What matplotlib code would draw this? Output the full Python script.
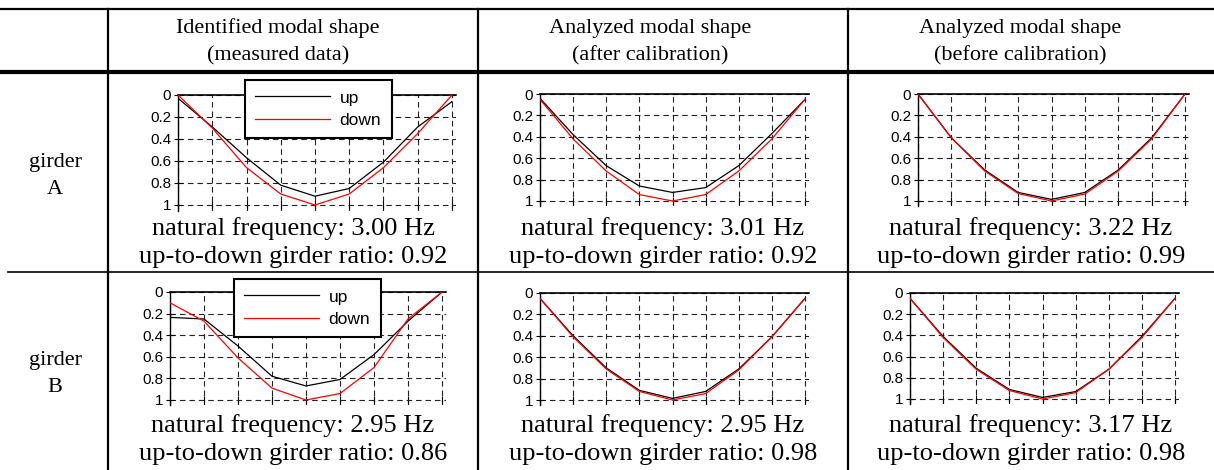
import numpy as np
import matplotlib
matplotlib.use('Agg')
import matplotlib.pyplot as plt
from matplotlib.lines import Line2D

# Figure size in pixels
W, H = 1214, 470

# Measurement points along the girder
points = np.arange(9)

# Girder A: modal shapes (normalized)
a_meas_up = [0.03, 0.29, 0.57, 0.82, 0.92, 0.85, 0.61, 0.29, 0.06]
a_meas_down = [0.0, 0.30, 0.66, 0.90, 1.0, 0.90, 0.66, 0.35, 0.0]
a_after_up = [0.04, 0.38, 0.67, 0.86, 0.92, 0.875, 0.67, 0.37, 0.05]
a_after_down = [0.05, 0.42, 0.72, 0.94, 1.0, 0.94, 0.72, 0.42, 0.05]
a_before_up = [0.0, 0.41, 0.71, 0.92, 0.985, 0.92, 0.71, 0.41, 0.0]
a_before_down = [0.0, 0.41, 0.72, 0.93, 1.0, 0.935, 0.72, 0.42, 0.0]

# Girder B: modal shapes (normalized)
b_meas_up = [0.235, 0.25, 0.50, 0.78, 0.87, 0.81, 0.58, 0.27, 0.0]
b_meas_down = [0.10, 0.27, 0.61, 0.89, 1.0, 0.94, 0.70, 0.25, 0.0]
b_after_up = [0.05, 0.40, 0.70, 0.91, 0.985, 0.92, 0.71, 0.41, 0.05]
b_after_down = [0.05, 0.41, 0.71, 0.92, 1.0, 0.94, 0.72, 0.41, 0.05]
b_before_up = [0.05, 0.41, 0.71, 0.91, 0.985, 0.93, 0.72, 0.41, 0.05]
b_before_down = [0.05, 0.42, 0.72, 0.92, 1.0, 0.94, 0.72, 0.42, 0.05]

col_titles = [["Identified modal shape", "(measured data)"],
              ["Analyzed modal shape", "(after calibration)"],
              ["Analyzed modal shape", "(before calibration)"]]
row_labels = [["girder", "A"], ["girder", "B"]]
frequencies = [["3.00", "3.01", "3.22"], ["2.95", "2.95", "3.17"]]
ratios = [["0.92", "0.92", "0.99"], ["0.86", "0.98", "0.98"]]

serif = 'Liberation Serif'
sans = 'Liberation Sans'

fig = plt.figure(figsize=(W / 100, H / 100), dpi=100)


def fx(x):
    return x / W


def fy(y):
    return 1 - y / H


########################
# Table lines
########################
def hline(y, x0, x1, lw):
    fig.add_artist(Line2D([fx(x0), fx(x1)], [fy(y), fy(y)], color='black', lw=lw))


def vline(x, y0, y1, lw):
    fig.add_artist(Line2D([fx(x), fx(x)], [fy(y0), fy(y1)], color='black', lw=lw))


hline(9, 0, W, 1.6)
hline(72, 0, W, 3.0)
hline(272, 8, W, 1.2)
for xs in [108, 478, 848]:
    vline(xs, 9, H, 1.6)

########################
# Header and row label text
########################
header_x = [278, 650, 1020]
for cx, (t1, t2) in zip(header_x, col_titles):
    fig.text(fx(cx), fy(28), t1, family=serif, fontsize=16, ha='center', va='center')
    fig.text(fx(cx), fy(56), t2, family=serif, fontsize=16, ha='center', va='center')

row_label_y = [(163, 190), (360, 387)]
for (y1, y2), (t1, t2) in zip(row_label_y, row_labels):
    fig.text(fx(55), fy(y1), t1, family=serif, fontsize=16, ha='center', va='center')
    fig.text(fx(55), fy(y2), t2, family=serif, fontsize=16, ha='center', va='center')

########################
# Mode shape plots
########################
col_centers = [293, 663, 1031]
# (x at point 0, x at point 8, y at 0, y at 1) in pixels
plot_boxes = [
    [(178, 452, 95, 205), (540, 805, 94, 201), (918, 1185, 94, 201)],
    [(170, 442, 292, 400), (540, 805, 293, 400), (910, 1175, 293, 399)],
]
shapes = [
    [(a_meas_up, a_meas_down), (a_after_up, a_after_down), (a_before_up, a_before_down)],
    [(b_meas_up, b_meas_down), (b_after_up, b_after_down), (b_before_up, b_before_down)],
]
text_y = [(235, 263), (432, 460)]
legend_pos = [(245, 80), (234, 279)]

dash = (0, (5, 3.5))
for r in range(2):
    for c in range(3):
        px0, px8, py0, py1 = plot_boxes[r][c]
        w = (px8 - px0) * 8.12 / 8
        h = (py1 - py0) * 1.05
        ax = fig.add_axes([fx(px0), fy(py0 + h), w / W, h / H])
        up, down = shapes[r][c]
        ax.plot(points, up, color='black', lw=0.9, label='up', zorder=3)
        ax.plot(points, down, color='red', lw=0.9, label='down', zorder=3)
        ax.set_xlim(0, 8.12)
        ax.set_ylim(1.05, 0)
        ax.set_xticks(points)
        ax.set_yticks([0, 0.2, 0.4, 0.6, 0.8, 1])
        ax.set_yticklabels(['0', '0.2', '0.4', '0.6', '0.8', '1'], family=sans, fontsize=11)
        ax.grid(True, color='#222222', lw=0.8, linestyle=dash)
        for s in ['right', 'bottom']:
            ax.spines[s].set_visible(False)
        ax.spines['bottom'].set_position(('data', 1))
        ax.spines['top'].set_linewidth(1.2)
        ax.spines['left'].set_linewidth(1.0)
        ax.tick_params(axis='x', direction='inout', length=6, width=0.8,
                       labelbottom=False, bottom=True)
        ax.tick_params(axis='y', direction='inout', length=6, width=0.8, pad=2)

        # Legend in the measured data plots
        if c == 0:
            lx, ly = legend_pos[r]
            leg = ax.legend(loc='upper left',
                            bbox_to_anchor=(fx(lx), fy(ly)),
                            bbox_transform=fig.transFigure,
                            prop={'family': sans, 'size': 12.5},
                            handlelength=4.3, handletextpad=0.55,
                            labelspacing=0.4, borderpad=0.6, borderaxespad=0,
                            fancybox=False, framealpha=1)
            leg.get_frame().set_edgecolor('black')
            leg.get_frame().set_linewidth(1.5)
            leg.set_zorder(5)

        cx = col_centers[c]
        fig.text(fx(cx), fy(text_y[r][0]), f"natural frequency: {frequencies[r][c]} Hz",
                 family=serif, fontsize=19, ha='center', va='baseline')
        fig.text(fx(cx), fy(text_y[r][1]), f"up-to-down girder ratio: {ratios[r][c]}",
                 family=serif, fontsize=19, ha='center', va='baseline')

plt.savefig('out.png', dpi=100)
